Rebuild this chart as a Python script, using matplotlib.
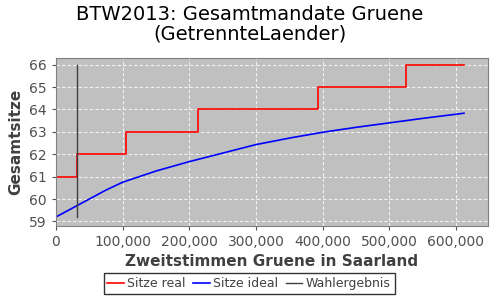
import matplotlib.pyplot as plt
from matplotlib.ticker import FuncFormatter

# Sitze real (step function)
real_x = [0, 31000, 31000, 105000, 105000, 213000, 213000, 393000, 393000, 525000, 525000, 612000]
real_y = [61, 61, 62, 62, 63, 63, 64, 64, 65, 65, 66, 66]

# Sitze ideal
ideal_x = [0, 25000, 50000, 75000, 100000, 150000, 200000, 250000, 300000,
           350000, 400000, 450000, 500000, 550000, 612000]
ideal_y = [59.2, 59.6, 60.0, 60.4, 60.75, 61.25, 61.67, 62.05, 62.43,
           62.72, 62.98, 63.2, 63.4, 63.6, 63.83]

# Wahlergebnis
wahl_x = [32000, 32000]
wahl_y = [59.2, 66]

fig = plt.figure(figsize=(5, 3), dpi=100)
ax = fig.add_axes([0.112, 0.247, 0.864, 0.56])
ax.set_facecolor('#c0c0c0')

ax.plot(real_x, real_y, color='red', lw=1.2, label='Sitze real')
ax.plot(ideal_x, ideal_y, color='blue', lw=1.2, label='Sitze ideal')
ax.plot(wahl_x, wahl_y, color='#404040', lw=1.0, label='Wahlergebnis')

ax.set_xlim(0, 648000)
ax.set_ylim(58.8, 66.3)
ax.set_xticks([0, 100000, 200000, 300000, 400000, 500000, 600000])
ax.set_yticks(range(59, 67))
ax.xaxis.set_major_formatter(FuncFormatter(lambda v, p: f'{int(v):,}'))
ax.grid(True, color='white', ls=(0, (3, 2)), lw=0.8, alpha=0.8)
ax.set_axisbelow(True)

for s in ax.spines.values():
    s.set_color('#808080')
ax.tick_params(colors='#505050', labelsize=10, length=3)

ax.set_xlabel('Zweitstimmen Gruene in Saarland', fontsize=11, fontweight='bold', color='#404040')
ax.set_ylabel('Gesamtsitze', fontsize=11, fontweight='bold', color='#404040')
fig.suptitle('BTW2013: Gesamtmandate Gruene\n(GetrennteLaender)', fontsize=14, y=0.985,
             linespacing=1.1)

leg = ax.legend(loc='upper center', bbox_to_anchor=(0.447, -0.245), ncol=3, fontsize=9,
                frameon=True, fancybox=False, handlelength=1.3, handletextpad=0.3,
                columnspacing=0.6, borderpad=0.3)
leg.get_frame().set_edgecolor('black')
leg.get_frame().set_linewidth(1.0)
for t in leg.get_texts():
    t.set_color('#404040')

fig.savefig('out.png', dpi=100)
